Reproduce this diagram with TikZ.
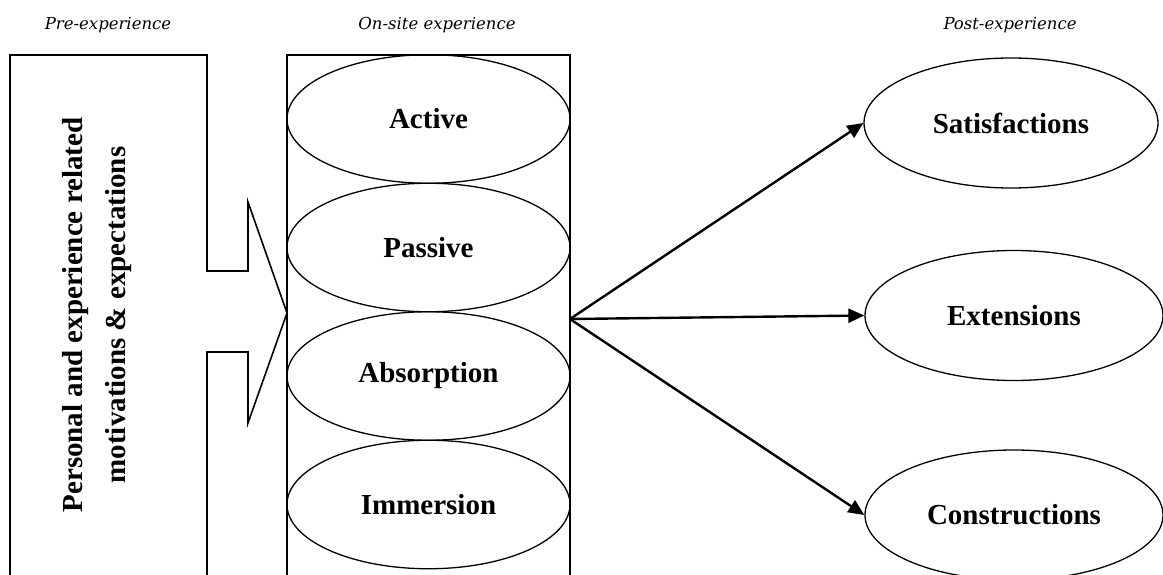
\documentclass[tikz,border=0pt]{standalone}
\usepackage{fontspec}
\setmainfont{Liberation Serif}
\newfontfamily\phasefont{DejaVu Serif}
\usetikzlibrary{shapes.geometric,arrows.meta}

\tikzset{
  outline/.style={draw=black, line width=1.6pt},
  stage/.style={ellipse, draw=black, line width=1.3pt, inner sep=0pt,
    font=\fontsize{29}{34}\selectfont\bfseries},
  onsite/.style={stage, minimum width=283pt, minimum height=128.5pt},
  outcome/.style={stage, minimum width=294pt, minimum height=130pt},
  phase/.style={font=\fontsize{16.5}{20}\selectfont\phasefont\itshape},
  flow/.style={line width=2.4pt, -{Triangle[length=16pt,width=14pt]}}
}

\begin{document}
\begin{tikzpicture}[x=1pt,y=-1pt]
  \useasboundingbox (0,0) rectangle (1163,575);
  \clip (0,0) rectangle (1163,575);

  % phase headings
  \node[phase] (pre)  at (108,25)  {Pre-experience};
  \node[phase] (on)   at (437,25)  {On-site experience};
  \node[phase] (post) at (1010,25) {Post-experience};

  % pre-experience block with its arrow notch
  \draw[outline, line join=miter]
    (10,600) -- (10,55) -- (207,55) -- (207,271) -- (248,271) -- (248,202)
    -- (287,313) -- (248,423) -- (248,352) -- (207,352) -- (207,600);
  \node[rotate=90, align=center, font=\fontsize{29}{43}\selectfont\bfseries]
    (motiv) at (97,315) {Personal and experience related\\motivations \& expectations};

  % on-site column
  \draw[outline] (287,600) -- (287,55) -- (570,55) -- (570,600);
  \node[onsite] (active)     at (428.5,119)   {Active};
  \node[onsite] (passive)    at (428.5,247.5) {Passive};
  \node[onsite] (absorption) at (428.5,376)   {Absorption};
  \node[onsite] (immersion)  at (428.5,504.5) {Immersion};

  % post-experience outcomes
  \node[outcome] (satis) at (1011,123) {Satisfactions};
  \node[outcome, minimum width=298pt] (ext)  at (1014,315.5) {Extensions};
  \node[outcome, minimum width=298pt] (cons) at (1014,515)   {Constructions};

  % flows from the on-site column
  \coordinate (src) at (570,319);
  \draw[flow] (src) -- (satis.west);
  \draw[flow] (src) -- (ext.west);
  \draw[flow] (src) -- (cons.west);
\end{tikzpicture}
\end{document}
